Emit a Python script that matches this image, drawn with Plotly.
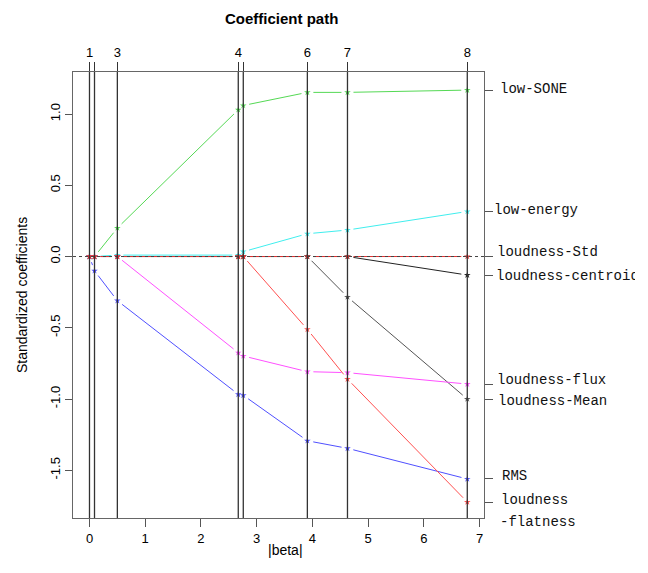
import math
import plotly.graph_objects as go

# ---------------- data ----------------
beta = [0.0, 0.09, 0.50, 2.67, 2.76, 3.91, 4.63, 6.78]
step_labels = ["1", "", "3", "4", "", "6", "7", "8"]

low_SONE = [0, 0, 0.20, 1.03, 1.06, 1.152, 1.152, 1.168]
low_energy = [0, 0, 0.01, 0.01, 0.034, 0.160, 0.186, 0.316]
loudness_Std = [0, 0, 0, 0, 0, 0, 0, 0]
loudness_centroid = [0, 0, 0, 0, 0, 0, 0, -0.13]
loudness_flux = [0, 0, 0, -0.675, -0.698, -0.808, -0.815, -0.895]
loudness_Mean = [0, 0, 0, 0, 0, 0, -0.284, -1.0]
RMS = [0, -0.10, -0.31, -0.967, -0.974, -1.293, -1.346, -1.561]
loudness_flatness = [0, 0, 0, 0, 0, -0.511, -0.86, -1.723]

series_names = ["loudness-Mean", "loudness-centroid", "low-SONE", "RMS",
                "low-energy", "loudness-flux", "loudness-flatness", "loudness-Std"]
series_values = [loudness_Mean, loudness_centroid, low_SONE, RMS,
                 low_energy, loudness_flux, loudness_flatness, loudness_Std]
series_colors = ["#555555", "#222222", "#55d955", "#5050ff",
                 "#40eeee", "#ff50ff", "#ff5050", "#e03030"]

x_ticks = [0, 1, 2, 3, 4, 5, 6, 7]
y_ticks = [-1.5, -1.0, -0.5, 0.0, 0.5, 1.0]
y_tick_text = ["-1.5", "-1.0", "-0.5", "0.0", "0.5", "1.0"]

# right-side labels: (text, left px, centre px)
right_labels = [
    ("low-SONE", 499, 89),
    ("low-energy", 493, 210),
    ("loudness-Std", 496, 252),
    ("loudness-centroid", 495, 276),
    ("loudness-flux", 496, 380),
    ("loudness-Mean", 497, 401),
    ("RMS", 501, 476),
    ("loudness", 500, 500),
    ("-flatness", 499, 522),
]

# ---------------- layout geometry ----------------
W, H = 648, 573
L, R, T, B = 73, 484, 72, 518
xr = [-0.296, 7.08]
yr = [-1.835, 1.295]
sx = (R - L) / (xr[1] - xr[0])
sy = (B - T) / (yr[1] - yr[0])
GAP = 6.0  # px gap around points (R type="b")
CLIP_X = 634  # right edge where the reference cuts its text


def gapped(xs, ys):
    ox, oy = [], []
    for i in range(len(xs) - 1):
        x0, y0, x1, y1 = xs[i], ys[i], xs[i + 1], ys[i + 1]
        dx, dy = (x1 - x0) * sx, (y1 - y0) * sy
        Lp = math.hypot(dx, dy)
        if Lp <= 2 * GAP:
            continue
        t = GAP / Lp
        ox += [x0 + t * (x1 - x0), x1 - t * (x1 - x0), None]
        oy += [y0 + t * (y1 - y0), y1 - t * (y1 - y0), None]
    return ox, oy


fig = go.Figure()

for name, vals, col in zip(series_names, series_values, series_colors):
    gx, gy = gapped(beta, vals)
    fig.add_trace(go.Scatter(x=gx, y=gy, mode="lines", line=dict(color=col, width=1),
                             showlegend=False, hoverinfo="skip"))
for name, vals, col in zip(series_names, series_values, series_colors):
    fig.add_trace(go.Scatter(x=beta, y=vals, mode="markers", name=name,
                             marker=dict(symbol="star", size=5, color=col),
                             showlegend=False))

# invisible trace for the secondary axes
fig.add_trace(go.Scatter(x=[beta[0]], y=[0], xaxis="x2", yaxis="y2", mode="markers",
                         marker=dict(opacity=0), showlegend=False, hoverinfo="skip"))

shapes = [dict(type="line", xref="paper", yref="y", x0=0, x1=1, y0=0, y1=0,
               line=dict(color="#444444", width=1, dash="dot"), layer="above")]
for b in beta:
    shapes.append(dict(type="line", xref="x", yref="paper", x0=b, x1=b, y0=0, y1=1,
                       line=dict(color="#333333", width=1.3), layer="above"))

final_vals = [v[-1] for v in series_values]

annotations = []
for txt, px, py in right_labels:
    annotations.append(dict(text=txt, xref="paper", yref="paper",
                            x=(px - L) / (R - L), y=(B - py) / (B - T),
                            xanchor="left", yanchor="middle", showarrow=False,
                            width=CLIP_X - px, align="left", borderpad=0,
                            font=dict(family="Liberation Mono", size=14, color="#111")))
annotations += [
    dict(text="<b>Coefficient path</b>", xref="paper", yref="paper",
         x=(281 - L) / (R - L), y=(B - 19) / (B - T), xanchor="center", yanchor="middle",
         showarrow=False, font=dict(family="Liberation Sans", size=15, color="black")),
    dict(text="|beta|", xref="paper", yref="paper",
         x=(285 - L) / (R - L), y=(B - 550) / (B - T), xanchor="center", yanchor="middle",
         showarrow=False, font=dict(family="Liberation Sans", size=14, color="black")),
    dict(text="Standardized coefficients", xref="paper", yref="paper",
         x=(22 - L) / (R - L), y=0.5, xanchor="center", yanchor="middle", textangle=-90,
         showarrow=False, font=dict(family="Liberation Sans", size=14, color="black")),
]

axis_font = dict(family="Liberation Sans", size=13, color="black")

fig.update_layout(
    width=W, height=H,
    margin=dict(l=L, r=W - R, t=T, b=H - B, pad=0),
    paper_bgcolor="white", plot_bgcolor="white",
    shapes=shapes, annotations=annotations,
    xaxis=dict(range=xr, tickvals=x_ticks, ticks="outside", ticklen=8, tickcolor="#555",
               showline=True, linecolor="#666", linewidth=1.3, mirror=True,
               showgrid=False, zeroline=False, tickfont=axis_font),
    yaxis=dict(range=yr, tickvals=y_ticks, ticktext=y_tick_text, tickangle=-90,
               ticks="outside", ticklen=7, tickcolor="#555",
               showline=True, linecolor="#666", linewidth=1.3, mirror=True,
               showgrid=False, zeroline=False, tickfont=axis_font),
    xaxis2=dict(range=xr, overlaying="x", side="top", anchor="y2",
                tickvals=beta, ticktext=step_labels, ticks="outside", ticklen=9,
                tickcolor="#333", showline=False, showgrid=False, zeroline=False,
                tickfont=axis_font),
    yaxis2=dict(range=yr, overlaying="y", side="right", anchor="x2",
                tickvals=final_vals, showticklabels=False, ticks="outside", ticklen=8,
                tickcolor="#555", showline=False, showgrid=False, zeroline=False),
)

fig.write_html("out.html")
